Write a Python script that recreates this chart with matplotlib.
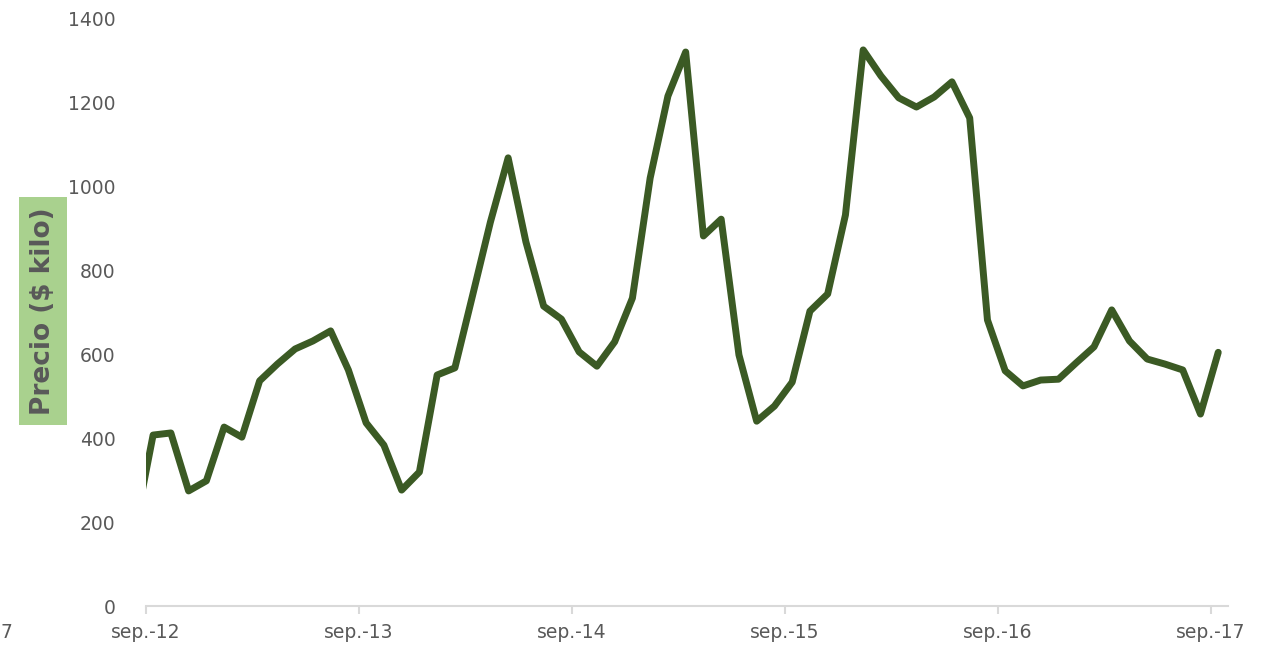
import matplotlib
matplotlib.use("Agg")
import matplotlib.pyplot as plt
from matplotlib.patches import Rectangle
import numpy as np
import pandas as pd

# monthly price, aug-12 .. sep-17 (first point falls just left of the axis)
fechas = pd.date_range("2012-08-01", "2017-09-01", freq="MS")
precio = [
    190, 407, 412, 274, 298, 426, 402, 536, 576, 612, 631, 655,
    562, 436, 383, 276, 319, 550, 567, 740, 914, 1067, 867, 714,
    683, 605, 571, 629, 733, 1019, 1214, 1319, 881, 921, 598, 440,
    476, 533, 702, 743, 931, 1324, 1262, 1210, 1188, 1212, 1248, 1162,
    681, 560, 524, 538, 540, 579, 617, 705, 631, 588, 576, 562,
    457, 604,
]
tick_labels = ["sep.-12", "sep.-13", "sep.-14", "sep.-15", "sep.-16", "sep.-17"]
y_ticks = [0, 200, 400, 600, 800, 1000, 1200, 1400]

LINE = "#3b5a24"
TXT = "#595959"
AXIS = "#d9d9d9"

# months counted from sep-12, points sit a bit past the start of each month
meses = (fechas.year - 2012) * 12 + (fechas.month - 9)
x = np.asarray(meses, dtype=float) + 0.4

fig = plt.figure(figsize=(12.7, 6.53), dpi=100)
ax = fig.add_axes([146 / 1270, 1 - 606 / 653, (1228 - 146) / 1270, (606 - 18) / 653])

ax.plot(x, precio, color=LINE, linewidth=5.0, solid_joinstyle="round",
        solid_capstyle="round", clip_on=True)

ax.set_xlim(0, 60.95)
ax.set_ylim(0, 1400)

ax.set_xticks(np.arange(0, 61, 12))
ax.set_xticklabels(tick_labels)
ax.set_yticks(y_ticks)
ax.set_yticklabels([str(v) for v in y_ticks])

for s in ["top", "right", "left"]:
    ax.spines[s].set_visible(False)
ax.spines["bottom"].set_color(AXIS)
ax.spines["bottom"].set_linewidth(1.5)

ax.tick_params(axis="x", colors=AXIS, length=6, width=1.5, pad=6, labelsize=13.5,
               labelcolor=TXT)
ax.tick_params(axis="y", length=0, pad=22, labelsize=13.5, labelcolor=TXT)

# y label on a green box
fig.patches.append(Rectangle((19 / 1270, 1 - 425 / 653), 48 / 1270, 228 / 653,
                             transform=fig.transFigure, facecolor="#a9d18e",
                             edgecolor="none", zorder=0))
fig.text(43 / 1270, 1 - 311 / 653, "Precio ($ kilo)", rotation=90, ha="center",
         va="center", fontsize=19, fontweight="bold", color=TXT)

# stray label fragment at the bottom-left corner
fig.text(0.0, 1 - 632 / 653, "7", ha="left", va="center", fontsize=13.5, color=TXT)

fig.savefig("out.png", dpi=100)
